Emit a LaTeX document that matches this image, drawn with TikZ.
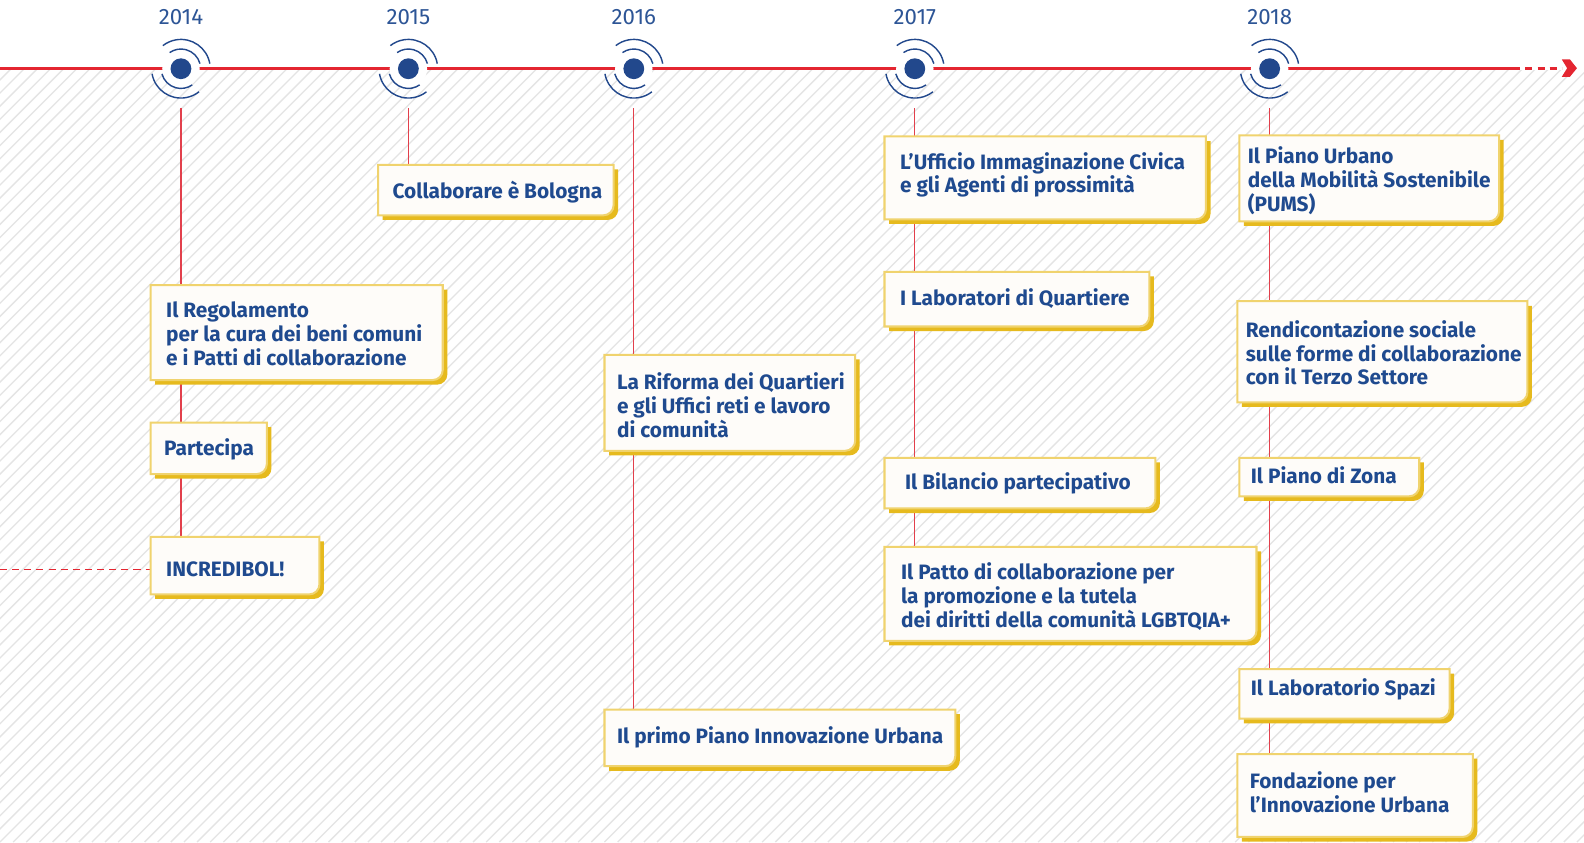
\documentclass[tikz,border=0pt]{standalone}
\usepackage{fontspec}
\setmainfont{Fira Sans}
\usetikzlibrary{calc}
\definecolor{tlred}{HTML}{E42631}
\definecolor{vred}{HTML}{E2404C}
\definecolor{dotblue}{HTML}{22488C}
\definecolor{txtblue}{HTML}{1F4A8F}
\definecolor{yearblue}{HTML}{2D5596}
\definecolor{shadowy}{HTML}{E6BA1E}
\definecolor{bordery}{HTML}{F0D36E}
\definecolor{boxfill}{HTML}{FEFCF9}
\definecolor{hatchc}{HTML}{E4E4E4}
\pgfdeclarelayer{hatch}\pgfdeclarelayer{conn}\pgfdeclarelayer{boxes}
\pgfsetlayers{hatch,conn,boxes,main}
\tikzset{
  boxframe/.style={anchor=north west, inner sep=0pt, outer sep=0pt, draw=none, rectangle},
  evtext/.style={anchor=west, align=left, inner sep=0pt, text=txtblue, font=\bfseries\fontsize{10.3}{11.75}\selectfont},
  yearlabel/.style={inner sep=0pt, text=yearblue, font=\fontsize{11}{13}\selectfont},
  dotnode/.style={circle, fill=dotblue, minimum size=10.3pt, inner sep=0pt, outer sep=0pt},
  arcline/.style={draw=dotblue, line width=0.7pt},
  vline/.style={draw=vred, line width=0.65pt},
  tline/.style={draw=tlred, line width=1.5pt},
}
\newcommand\evbox[8]{%
  \pgfmathsetmacro\evbW{#4*0.5}\pgfmathsetmacro\evbH{#5*0.5}%
  \node[boxframe, minimum width=\evbW pt, minimum height=\evbH pt] (#1) at (#2,#3) {};
  \begin{pgfonlayer}{boxes}
    \fill[shadowy] ($(#1.north west)+(4.5,4.5)$) -- ($(#1.north east)+(4.5,4.5)$) -- ($(#1.south east)+(4.5,-5.5)$) arc[start angle=0, end angle=90, radius=10] -- ($(#1.south west)+(4.5,4.5)$) -- cycle;
    \filldraw[fill=boxfill, draw=bordery, line width=1pt] (#1.north west) -- (#1.north east) -- ($(#1.south east)+(0,-10)$) arc[start angle=0, end angle=90, radius=10] -- (#1.south west) -- cycle;
  \end{pgfonlayer}
  \node[evtext] (#1-t) at (#6,#7) {#8};
}
\newcommand\yearmark[3]{%
  \fill[white] (#2,68) circle[radius=18.5];
  \node[dotnode] (#1) at (#2,68) {};
  \begin{scope}[shift={(#2,68)}, yscale=-1]
    \draw[arcline] (15:19.5) arc[start angle=15, end angle=125, radius=19.5];
    \draw[arcline] (10:29) arc[start angle=10, end angle=128, radius=29];
    \draw[arcline] (195:19.5) arc[start angle=195, end angle=305, radius=19.5];
    \draw[arcline] (190:29) arc[start angle=190, end angle=308, radius=29];
  \end{scope}
  \node[yearlabel] (#1-y) at (#2,17) {#3};
  \coordinate (#1-s) at (#2,107);
}
\begin{document}
\begin{tikzpicture}[x=0.5pt, y=-0.5pt]
\useasboundingbox (0,0) rectangle (1567,833);
\begin{pgfonlayer}{hatch}
  \fill[white] (0,0) rectangle (1567,833);
  \begin{scope}
    \clip (0,70) rectangle (1567,833);
    \foreach \i in {-780,-767,...,1570} \draw[hatchc, line width=0.65pt] (\i,833) -- ++(770,-770);
  \end{scope}
\end{pgfonlayer}

% timeline
\coordinate (tl-start) at (0,68);
\coordinate (tl-end) at (1497,68);
\coordinate (tl-arrow) at (1545,68);
\draw[tline] (tl-start) -- (tl-end);
\draw[tline, dash pattern=on 3.5pt off 2.5pt] (tl-end) -- (tl-arrow);
\fill[tlred] (1545,58.7) -- (1553,58.7) -- (1560,67.5) -- (1553,76) -- (1545,76) -- (1550.3,67.5) -- cycle;

\yearmark{m2014}{179}{2014}
\yearmark{m2015}{404}{2015}
\yearmark{m2016}{627}{2016}
\yearmark{m2017}{905}{2017}
\yearmark{m2018}{1256}{2018}

% boxes
\evbox{collab}{374}{163}{233}{50}{388}{190}{Collaborare è Bologna}
\evbox{reg}{149}{282}{289}{94}{164}{330}{Il Regolamento\\per la cura dei beni comuni\\e i Patti di collaborazione}
\evbox{partec}{149}{418}{115}{51}{162}{445}{Partecipa}
\evbox{incred}{149}{531}{167}{57}{164}{563}{INCREDIBOL!}
\evbox{riforma}{598}{351}{248}{95}{610}{401}{La Riforma dei Quartieri\\e gli Uffici reti e lavoro\\di comunità}
\evbox{primo}{598}{702}{347}{56}{610}{729}{Il primo Piano Innovazione Urbana}
\evbox{ufficio}{875}{135}{318}{82}{890}{173}{L’Ufficio Immaginazione Civica\\e gli Agenti di prossimità}
\evbox{labq}{875}{269}{262}{54}{890}{295}{I Laboratori di Quartiere}
\evbox{bilancio}{875}{453}{268}{50}{895}{478}{Il Bilancio partecipativo}
\evbox{patto}{875}{541}{368}{93}{891}{590}{Il Patto di collaborazione per\\la promozione e la tutela\\dei diritti della comunità LGBTQIA+}
\evbox{pums}{1226}{134}{257}{85}{1234}{179}{Il Piano Urbano\\della Mobilità Sostenibile\\(PUMS)}
\evbox{rendic}{1224}{298}{287}{100}{1232}{349}{Rendicontazione sociale\\sulle forme di collaborazione\\con il Terzo Settore}
\evbox{zona}{1226}{453}{178}{38}{1237}{470}{Il Piano di Zona}
\evbox{labspazi}{1226}{662}{208}{49}{1237}{682}{Il Laboratorio Spazi}
\evbox{fond}{1224}{746}{233}{82}{1236}{784}{Fondazione per\\l’Innovazione Urbana}

% connectors
\begin{pgfonlayer}{conn}
  \draw[vline] (m2014-s) -- (m2014-s |- incred.north);
  \draw[vline] (m2015-s) -- (m2015-s |- collab.north);
  \draw[vline] (m2016-s) -- (m2016-s |- primo.north);
  \draw[vline] (m2017-s) -- (m2017-s |- patto.north);
  \draw[vline] (m2018-s) -- (m2018-s |- fond.north);
  \coordinate (left-in) at (0,563);
  \draw[draw=tlred, line width=0.6pt, dash pattern=on 3.5pt off 2.5pt] (left-in) -- (left-in -| incred.west);
\end{pgfonlayer}
\end{tikzpicture}
\end{document}
